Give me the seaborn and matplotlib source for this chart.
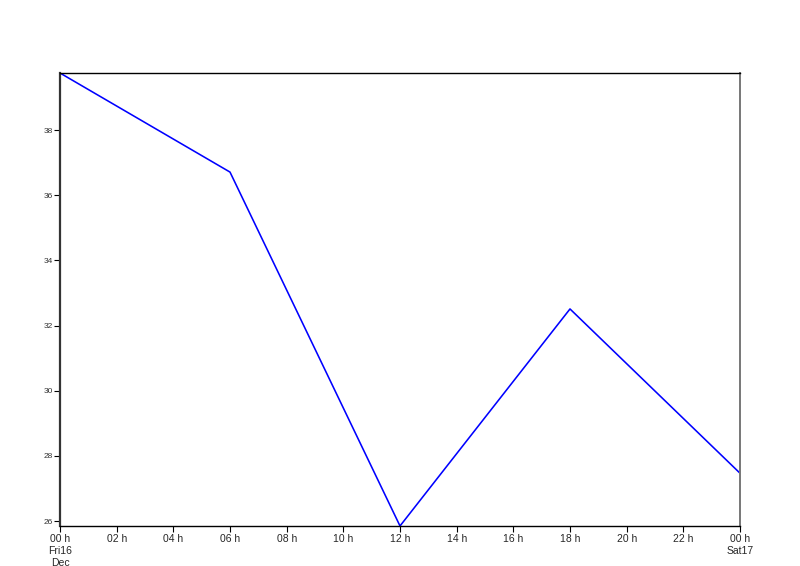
import pandas as pd
import numpy as np
import matplotlib
matplotlib.use('Agg')
import matplotlib.pyplot as plt
import matplotlib.dates as mdates
from matplotlib.ticker import FuncFormatter
import seaborn as sns

# data
times = ['2011-12-16 00:00', '2011-12-16 06:00', '2011-12-16 12:00',
         '2011-12-16 18:00', '2011-12-17 00:00']
values = [39.75, 36.71, 25.85, 32.51, 27.47]
y_ticks = [26, 28, 30, 32, 34, 36, 38]

df = pd.DataFrame({'time': pd.to_datetime(times), 'value': values})

sns.set_style('white')
plt.rcParams['font.family'] = ['Liberation Sans', 'DejaVu Sans']

fig = plt.figure(figsize=(8, 5.66), dpi=100)
ax = fig.add_axes([0.075, 0.0707, 0.85, 0.8003])

sns.lineplot(data=df, x='time', y='value', color='#0000ff', linewidth=1.15, ax=ax)

ax.set_xlim(df['time'].min(), df['time'].max())
ax.set_ylim(min(values), max(values))
ax.set_yticks(y_ticks)
ax.set_xlabel('')
ax.set_ylabel('')

ax.xaxis.set_major_locator(mdates.HourLocator(byhour=range(0, 24, 2)))


def fmt_x(x, pos):
    d = mdates.num2date(x)
    lab = d.strftime('%H h')
    if d.hour == 0:
        if d.day == 16:
            lab += '\n' + d.strftime('%a%d') + '\n' + d.strftime('%b') + '\n' + d.strftime('%Y')
        else:
            lab += '\n' + d.strftime('%a%d')
    return lab


ax.xaxis.set_major_formatter(FuncFormatter(fmt_x))
ax.tick_params(axis='x', labelsize=7.5, length=4, width=0.8, color='black',
               bottom=True, pad=2)
ax.tick_params(axis='y', labelsize=6, length=4, width=0.8, color='black',
               left=True, labelcolor='#333333', pad=1)

ax.spines['left'].set_color('#333333')
ax.spines['left'].set_linewidth(1.6)
ax.spines['right'].set_color('#777777')
ax.spines['right'].set_linewidth(1.4)
ax.spines['top'].set_color('black')
ax.spines['top'].set_linewidth(1.0)
ax.spines['bottom'].set_color('black')
ax.spines['bottom'].set_linewidth(1.0)

fig.savefig('out.png', dpi=100)
